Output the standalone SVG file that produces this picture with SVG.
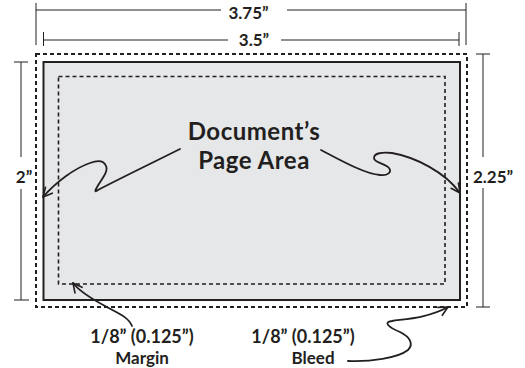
<svg xmlns="http://www.w3.org/2000/svg" width="525" height="368" viewBox="0 0 525 368">
  <style>
    .dim { stroke: #231f20; stroke-width: 1; fill: none; }
    .lbl { font-family: Lato, "DejaVu Sans", sans-serif; font-weight: bold; fill: #231f20; text-anchor: middle; }
    .big { font-size: 24px; letter-spacing: 0.5px; }
    .med { font-size: 17px; }
    .fr { font-size: 18px; }
    .cur { stroke: #231f20; stroke-width: 1.8; fill: none; stroke-linecap: round; marker-end: url(#arr); }
  </style>
  <defs>
    <marker id="arr" markerUnits="userSpaceOnUse" orient="auto" refX="0" refY="0" overflow="visible">
      <path d="M-9,-4.5 L0,0 L-9,4.5" fill="none" stroke="#231f20" stroke-width="1.6" stroke-linecap="round" stroke-linejoin="round"/>
    </marker>
  </defs>
  <rect width="525" height="368" fill="#ffffff"/>

  <g id="page">
    <rect id="bleed" x="36" y="54" width="431" height="253" fill="none" stroke="#231f20" stroke-width="2" stroke-dasharray="4,3"/>
    <rect id="trim" x="43.5" y="62" width="416.5" height="238" fill="#e6e7e8" stroke="#231f20" stroke-width="2"/>
    <rect id="margin" x="58.5" y="76.5" width="386.5" height="207.5" fill="none" stroke="#231f20" stroke-width="1.6" stroke-dasharray="4,3"/>
  </g>

  <g id="dimensions">
    <path class="dim" d="M36,3 V45 M466,3 V45 M36,10 H221 M287,10 H466"/>
    <path class="dim" d="M43.5,32 V46 M459,32 V46 M43.5,40 H228 M281,40 H459"/>
    <path class="dim" d="M14,62 H28 M14,300 H29 M21,62 V157 M21,189 V300"/>
    <path class="dim" d="M476,54 H490 M476,307 H490 M483,54 V157 M483,188 V307"/>
  </g>

  <g id="connectors">
    <path class="cur" d="M180,149 C150,164 115,181 98,190 Q94,193 96,189 C100,181 109,172 106,166 C104,161 98,160 90,163 C75,168 56,182 43,197"/>
    <path class="cur" d="M321,150 C340,160 365,174 380,175 C388,176 392,172 389,168 C385,163 374,163 374,158 C374,153 382,152 392,153 C415,157 445,172 460,193"/>
    <path class="cur" d="M132,326 C128,316 115,312 105,306 C92,299 80,292 73,283"/>
    <path class="cur" d="M348,361 C370,362 398,358 408,350 C414,344 410,337 400,332 C388,327 383,322 392,321 C405,319 428,318 448,307"/>
  </g>

  <g id="labels">
    <text class="lbl med" x="248.5" y="19">3.75”</text>
    <text class="lbl med" x="254" y="46">3.5”</text>
    <text class="lbl med" x="24" y="183">2”</text>
    <text class="lbl med" x="493" y="183">2.25”</text>
    <text class="lbl big" x="254" y="140">Document’s</text>
    <text class="lbl big" x="254" y="169">Page Area</text>
    <text class="lbl fr" x="142" y="343">1/8” (0.125”)</text>
    <text class="lbl med" x="142" y="364">Margin</text>
    <text class="lbl fr" x="303" y="343">1/8” (0.125”)</text>
    <text class="lbl med" x="313" y="364">Bleed</text>
  </g>
</svg>
